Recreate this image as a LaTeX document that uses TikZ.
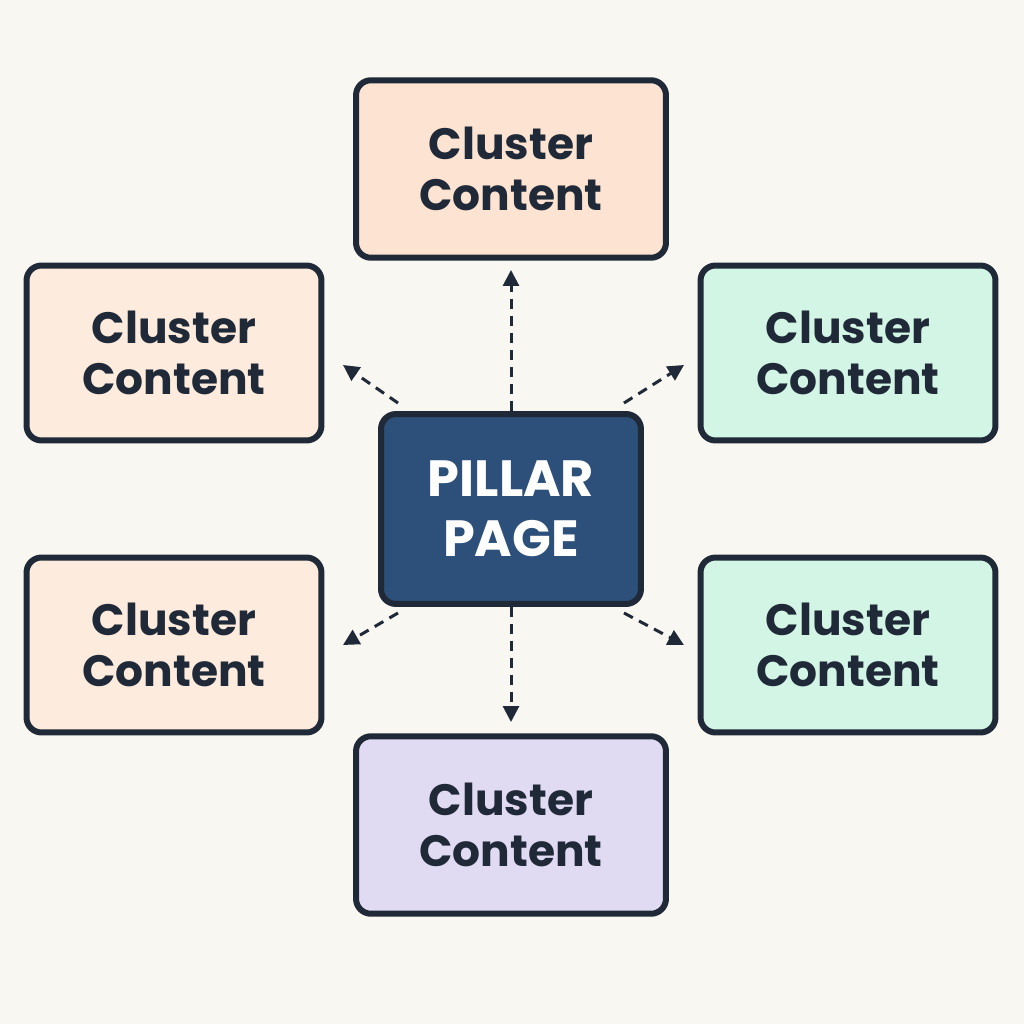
\documentclass[tikz,border=0pt]{standalone}
\usepackage{fontspec}
\setmainfont{Poppins}
\usetikzlibrary{arrows.meta}
\definecolor{bg}{HTML}{F9F7F2}
\definecolor{edge}{HTML}{1F2937}
\definecolor{peach}{HTML}{FDE4D2}
\definecolor{peachl}{HTML}{FDEBDD}
\definecolor{mint}{HTML}{D3F5E5}
\definecolor{lav}{HTML}{E1DAF3}
\definecolor{navy}{HTML}{2C5079}
\begin{document}
\begin{tikzpicture}[x=0.02cm,y=-0.02cm,
  box/.style={draw=edge,line width=1.2mm,rounded corners=3mm,align=center,text=edge,
    font=\fontsize{25}{29}\selectfont\bfseries,inner sep=0pt},
  arr/.style={draw=edge,line width=0.6mm,dash pattern=on 2mm off 1.4mm,-{Triangle[length=3.2mm,width=3.2mm]}}]
\fill[bg] (0,0) rectangle (1024,1024);
\useasboundingbox (0,0) rectangle (1024,1024);
\node[box,fill=peach,minimum width=6.2cm,minimum height=3.55cm] (t) at (511,169) {Cluster\\Content};
\node[box,fill=peachl,minimum width=5.9cm,minimum height=3.5cm] (lt) at (174,353) {Cluster\\Content};
\node[box,fill=mint,minimum width=5.9cm,minimum height=3.5cm] (rt) at (848,353) {Cluster\\Content};
\node[box,fill=peachl,minimum width=5.9cm,minimum height=3.5cm] (lb) at (174,645) {Cluster\\Content};
\node[box,fill=mint,minimum width=5.9cm,minimum height=3.5cm] (rb) at (848,645) {Cluster\\Content};
\node[box,fill=lav,minimum width=6.2cm,minimum height=3.55cm] (b) at (511,825) {Cluster\\Content};
\node[box,fill=navy,text=white,minimum width=5.2cm,minimum height=3.8cm,font=\fontsize{29}{34}\selectfont\bfseries] (c) at (511,509) {PILLAR\\PAGE};
\coordinate (at) at (511,270);
\coordinate (alt) at (343,365);
\coordinate (art) at (684,365);
\coordinate (alb) at (343,645);
\coordinate (arb) at (684,645);
\coordinate (ab) at (511,722);
\draw[arr] (c.north) -- (at);
\draw[arr] (c.north west) ++(20,-8) -- (alt);
\draw[arr] (c.north east) ++(-20,-8) -- (art);
\draw[arr] (c.south west) ++(20,6) -- (alb);
\draw[arr] (c.south east) ++(-20,6) -- (arb);
\draw[arr] (c.south) -- (ab);
\end{tikzpicture}
\end{document}
